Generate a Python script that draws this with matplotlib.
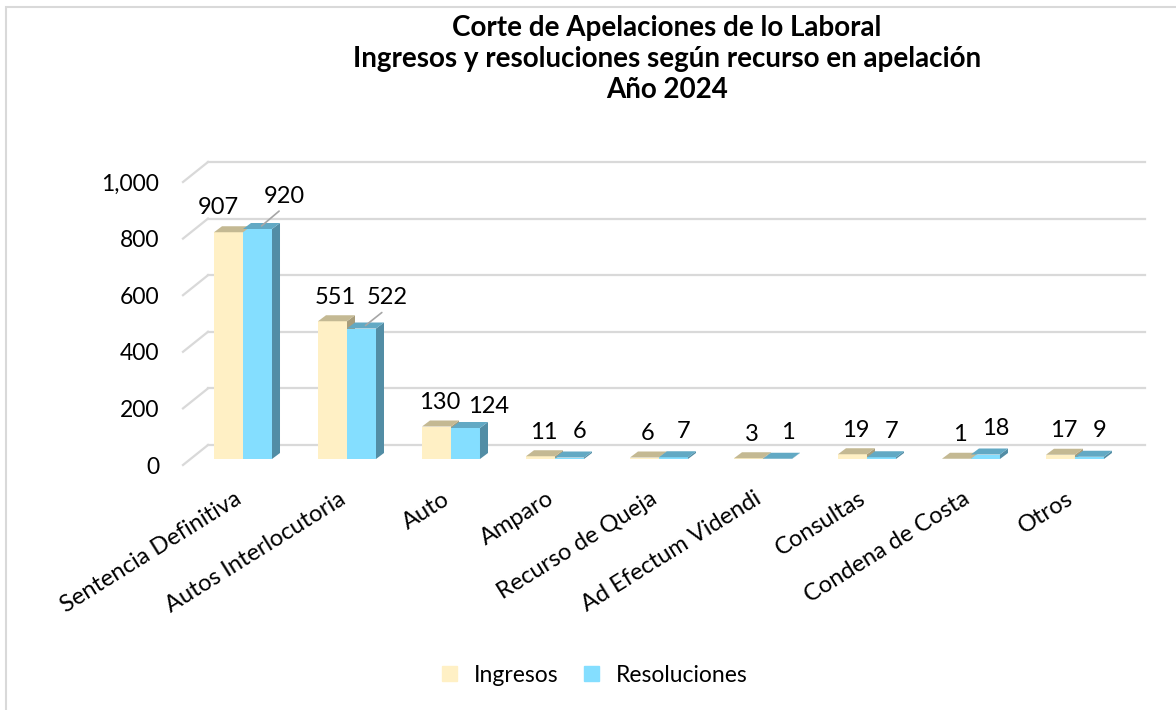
import matplotlib
matplotlib.use("Agg")
import matplotlib.pyplot as plt
import matplotlib.transforms as mtransforms
from matplotlib.patches import Polygon, Patch, Rectangle

# ---------------------------------------------------------------------------
# data
# ---------------------------------------------------------------------------
categories = ["Sentencia Definitiva", "Autos Interlocutoria", "Auto", "Amparo",
              "Recurso de Queja", "Ad Efectum Videndi", "Consultas",
              "Condena de Costa", "Otros"]
ingresos = [907, 551, 130, 11, 6, 3, 19, 1, 17]
resoluciones = [920, 522, 124, 6, 7, 1, 7, 18, 9]
y_ticks = [0, 200, 400, 600, 800, 1000]
y_tick_labels = ["0", "200", "400", "600", "800", "1,000"]
series_names = ["Ingresos", "Resoluciones"]
title_lines = ["Corte de Apelaciones de lo Laboral",
               "Ingresos y resoluciones según recurso en apelación",
               "Año 2024"]

# ---------------------------------------------------------------------------
# style
# ---------------------------------------------------------------------------
FONT = ["Lato", "DejaVu Sans"]
plt.rcParams["font.family"] = FONT
INK = "#000000"
GRID = "#D9D9D9"
ING = ("#FFF0C5", "#C4B993", "#A89D7B")   # front, top, side
RES = ("#84DEFF", "#62A9C4", "#528DA5")
BAR_DEPTH = (8, 6)      # px, right / up
WALL_DEPTH = (25, 20)   # px, right / up
# manual label nudges (px) the way they sit in the original workbook
ING_NUDGE = {0: (-10, 25)}
RES_NUDGE = {0: (23, 30), 1: (22, 28), 2: (19, 19)}
LEADERS = {0, 1}

W, H = 1176, 710
fig = plt.figure(figsize=(W / 100, H / 100), dpi=100)


def px_box(left, top, right, bottom):
    return [left / W, 1 - bottom / H, (right - left) / W, (bottom - top) / H]


XLIM = (-0.577, 8.433)
PX_PER_UNIT = 0.25

# back wall with the value axis
ax_wall = fig.add_axes(px_box(183, 182, 1120, 465))
ax_wall.set_xlim(*XLIM)
ax_wall.set_ylim(0, 1000)
for s in ax_wall.spines.values():
    s.set_visible(False)
ax_wall.set_yticks(y_ticks)
ax_wall.set_yticklabels(y_tick_labels, fontsize=16.5)
ax_wall.tick_params(axis="y", length=0, pad=17)
ax_wall.set_xticks(range(len(categories)))
ax_wall.set_xticklabels(categories, fontsize=17, rotation=32, ha="right",
                        va="baseline", rotation_mode="anchor")
ax_wall.tick_params(axis="x", length=0, pad=27)

back = mtransforms.offset_copy(ax_wall.transData, fig=fig, x=WALL_DEPTH[0],
                               y=WALL_DEPTH[1], units="dots")
for g in y_ticks:
    ax_wall.plot(XLIM, [g, g], transform=back, color=GRID, lw=1.6,
                 clip_on=False, zorder=0)
    p0 = ax_wall.transData.transform((XLIM[0], g))
    p1 = back.transform((XLIM[0], g))
    ax_wall.plot([p0[0], p1[0]], [p0[1], p1[1]],
                 transform=mtransforms.IdentityTransform(), color=GRID,
                 lw=1.6, clip_on=False, zorder=0)

# bars (perspective makes them a bit shorter than the wall scale)
ax_bar = fig.add_axes(px_box(183, 182, 1120, 459))
ax_bar.set_xlim(*XLIM)
ax_bar.set_ylim(0, (459 - 182) / PX_PER_UNIT)
ax_bar.axis("off")

bb = ax_bar.get_window_extent()
ddx = BAR_DEPTH[0] * (XLIM[1] - XLIM[0]) / bb.width
ddy = BAR_DEPTH[1] * ax_bar.get_ylim()[1] / bb.height

width = 29 / (bb.width / (XLIM[1] - XLIM[0]))
xs = list(range(len(categories)))
bars_ing = ax_bar.bar([x - width for x in xs], ingresos, width=width,
                      align="edge", color=ING[0], zorder=2)
bars_res = ax_bar.bar(xs, resoluciones, width=width, align="edge",
                      color=RES[0], zorder=2)


def faces(rect, colors, z):
    x0, x1, v = rect.get_x(), rect.get_x() + rect.get_width(), rect.get_height()
    side = Polygon([(x1, 0), (x1 + ddx, ddy), (x1 + ddx, v + ddy), (x1, v)],
                   closed=True, color=colors[2], lw=0, zorder=z)
    top = Polygon([(x0, v), (x1, v), (x1 + ddx, v + ddy), (x0 + ddx, v + ddy)],
                  closed=True, color=colors[1], lw=0, zorder=z + 0.1)
    ax_bar.add_patch(side)
    ax_bar.add_patch(top)


for i in xs:
    ri, rr = bars_ing.patches[i], bars_res.patches[i]
    ri.set_zorder(2 + i * 0.01)
    faces(ri, ING, 2.001 + i * 0.01)
    rr.set_zorder(2.003 + i * 0.01)
    faces(rr, RES, 2.004 + i * 0.01)

    # value labels
    cx = ri.get_x() + ri.get_width() / 2
    dx, dy = ING_NUDGE.get(i, (3, 24))
    ax_bar.annotate(f"{ingresos[i]}", xy=(cx, ingresos[i]), xytext=(dx, dy),
                    textcoords="offset pixels", ha="center", va="center",
                    fontsize=17, color=INK, annotation_clip=False, zorder=5)
    cx = rr.get_x() + rr.get_width() / 2
    dx, dy = RES_NUDGE.get(i, (6, 23))
    arrow = None
    if i in LEADERS:
        arrow = dict(arrowstyle="-", color="#A6A6A6", lw=1.2, relpos=(0.5, 0),
                     shrinkA=2, shrinkB=0)
    ax_bar.annotate(f"{resoluciones[i]}",
                    xy=(cx + ddx / 2, resoluciones[i] + ddy / 2),
                    xytext=(dx, dy), textcoords="offset pixels",
                    ha="center", va="center", fontsize=17, color=INK,
                    arrowprops=arrow, annotation_clip=False, zorder=5)

# title
fig.text(667 / W, 1 - 59 / H, "\n".join(title_lines), ha="center", va="center",
         fontsize=20, fontweight="bold", linespacing=1.22)

# legend
handles = [Patch(color=ING[0], label=series_names[0]),
           Patch(color=RES[0], label=series_names[1])]
fig.legend(handles=handles, loc="center", bbox_to_anchor=(595 / W, 1 - 675 / H),
           ncol=2, frameon=False, fontsize=16.5, handlelength=0.65,
           handleheight=0.65, handletextpad=0.75, columnspacing=1.1)

# chart-area border
fig.patches.append(Rectangle((6 / W, -0.1), 1.2, 1 - 7 / H + 0.1, fill=False,
                             ec=GRID, lw=1.5, transform=fig.transFigure))

fig.savefig("out.png", dpi=100)
